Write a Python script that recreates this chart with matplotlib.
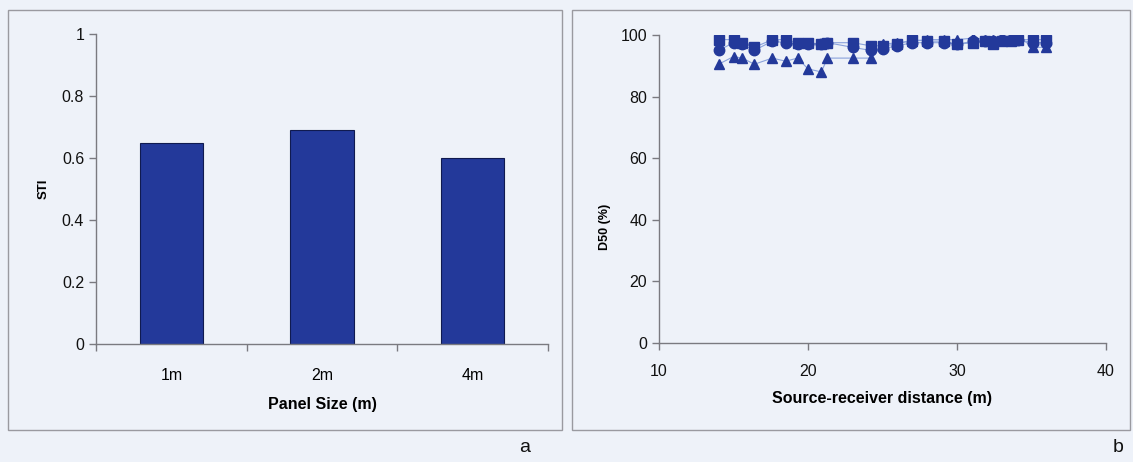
import matplotlib.pyplot as plt
from matplotlib.patches import Rectangle

plt.rcParams['font.family'] = ['Liberation Sans', 'DejaVu Sans']

# panel a data
panel_sizes = ['1m', '2m', '4m']
sti = [0.65, 0.69, 0.60]

# panel b data
distance = [14.0, 15.0, 15.6, 16.4, 17.6, 18.5, 19.3, 20.0, 20.9, 21.3, 23.0, 24.2, 25.0,
            26.0, 27.0, 28.0, 29.1, 30.0, 31.1, 31.9, 32.4, 33.0, 33.6, 34.1, 35.1, 36.0]
d50_square = [98.5, 98.5, 97.5, 96.0, 98.5, 98.5, 97.5, 97.5, 97.0, 97.5, 97.5, 96.5, 96.5,
              97.0, 98.5, 98.0, 98.0, 97.0, 97.5, 98.0, 97.0, 98.0, 98.0, 98.5, 98.5, 98.5]
d50_circle = [95.0, 97.5, 97.0, 95.0, 98.0, 97.5, 97.0, 97.0, 97.0, 97.5, 96.0, 95.0, 95.5,
              96.5, 97.5, 97.5, 97.5, 97.0, 98.0, 98.0, 98.0, 98.5, 98.5, 98.5, 97.5, 97.5]
d50_triangle = [90.5, 93.0, 92.5, 90.5, 92.5, 91.5, 92.5, 89.0, 88.0, 92.5, 92.5, 92.5, 97.0,
                97.5, 98.0, 98.5, 98.5, 98.5, 99.0, 98.5, 98.5, 99.0, 99.0, 99.5, 96.0, 96.0]

bg = '#eef2f9'
navy = '#23399a'
axis_col = '#7a7a80'

fig = plt.figure(figsize=(11.33, 4.62), dpi=100, facecolor=bg)

# panel frames
for x0, x1 in [(8, 562), (572, 1130)]:
    fig.patches.append(Rectangle((x0 / 1133, 1 - 430 / 462), (x1 - x0) / 1133, 420 / 462,
                                 transform=fig.transFigure, fill=False,
                                 edgecolor='#9a9aa0', linewidth=1))


def style_axes(ax):
    ax.set_facecolor(bg)
    for s in ['top', 'right']:
        ax.spines[s].set_visible(False)
    for s in ['left', 'bottom']:
        ax.spines[s].set_color(axis_col)
        ax.spines[s].set_linewidth(1)
    ax.tick_params(colors=axis_col, labelcolor='#111111', labelsize=11.5, length=5, width=1)


# left: STI bars
ax1 = fig.add_axes([96 / 1133, 1 - 344 / 462, 452 / 1133, 310 / 462])
style_axes(ax1)
pos = range(len(panel_sizes))
ax1.bar(pos, sti, width=0.42, color=navy, edgecolor='#101a50', linewidth=0.8)
ax1.set_xlim(-0.5, 2.5)
ax1.set_ylim(0, 1)
ax1.set_yticks([0, 0.2, 0.4, 0.6, 0.8, 1])
ax1.set_yticklabels(['0', '0.2', '0.4', '0.6', '0.8', '1'])
ax1.set_xticks([-0.5, 0.5, 1.5, 2.5])
ax1.set_xticklabels([])
ax1.set_xticks(list(pos), minor=True)
ax1.set_xticklabels(panel_sizes, minor=True)
ax1.tick_params(axis='x', which='minor', length=0, pad=17, labelsize=11.5)
ax1.set_ylabel('STI', fontsize=9.5, fontweight='bold')
ax1.yaxis.set_label_coords(-0.103, 0.5)
ax1.set_xlabel('Panel Size (m)', fontsize=11.5, fontweight='bold', labelpad=10)

# right: D50 scatter-lines
ax2 = fig.add_axes([659 / 1133, 1 - 343 / 462, 447 / 1133, 308 / 462])
style_axes(ax2)
line_col = '#8aa2dc'
for vals, mk in [(d50_triangle, '^'), (d50_circle, 'o'), (d50_square, 's')]:
    ax2.plot(distance, vals, color=line_col, linewidth=0.8, zorder=2)
    ax2.plot(distance, vals, linestyle='none', marker=mk, markersize=7.5,
             color=navy, markeredgecolor=navy, zorder=3)
ax2.set_xlim(10, 40)
ax2.set_ylim(0, 100)
ax2.set_xticks([10, 20, 30, 40])
ax2.set_yticks([0, 20, 40, 60, 80, 100])
ax2.tick_params(axis='x', pad=10)
ax2.set_ylabel('D50 (%)', fontsize=9, fontweight='bold')
ax2.yaxis.set_label_coords(-0.107, 0.377)
ax2.set_xlabel('Source-receiver distance (m)', fontsize=11.5, fontweight='bold', labelpad=9)

fig.text(525 / 1133, 1 - 447 / 462, 'a', fontsize=14, ha='center', va='center', color='#111111')
fig.text(1118 / 1133, 1 - 447 / 462, 'b', fontsize=14, ha='center', va='center', color='#111111')

fig.savefig('out.png', dpi=100, facecolor=bg)
